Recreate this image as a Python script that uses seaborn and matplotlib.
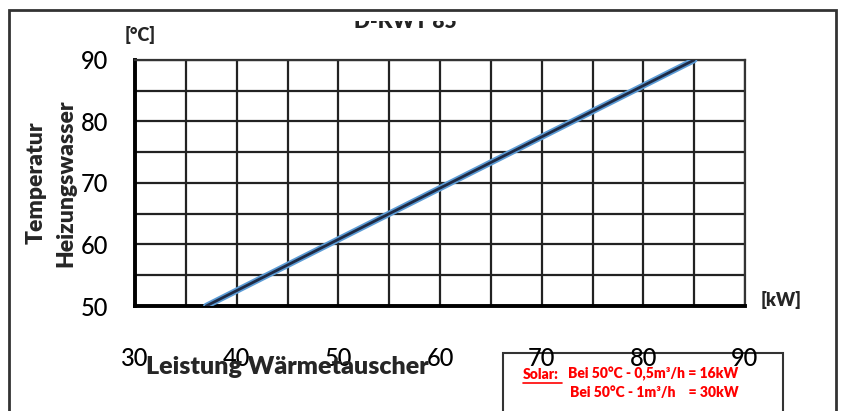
import matplotlib
matplotlib.use("Agg")
import matplotlib.pyplot as plt
import seaborn as sns
import pandas as pd
from matplotlib.ticker import MultipleLocator
from matplotlib.patches import Rectangle

# Werte
leistung_kw = [37, 85]
temperatur_c = [50, 90]
x_ticks = [30, 40, 50, 60, 70, 80, 90]
y_ticks = [50, 60, 70, 80, 90]

sns.set_theme(style="white")
plt.rcParams['font.family'] = ['Lato', 'DejaVu Sans']

df = pd.DataFrame({"kW": leistung_kw, "T": temperatur_c})

fig = plt.figure(figsize=(8.43, 4.11), dpi=100)
ax = fig.add_axes([135/843, 1 - 306/411, 610/843, 246/411])

# Hellblauer Schimmer unter der dunklen Linie
sns.lineplot(data=df, x="kW", y="T", ax=ax, color="#5b9bd5", linewidth=4.5, zorder=3)
sns.lineplot(data=df, x="kW", y="T", ax=ax, color="#1f2a44", linewidth=2.0, zorder=4)

ax.set_xlim(30, 90)
ax.set_ylim(50, 90)
ax.set_xticks(x_ticks)
ax.set_yticks(y_ticks)
ax.xaxis.set_minor_locator(MultipleLocator(5))
ax.yaxis.set_minor_locator(MultipleLocator(5))
ax.grid(True, which="both", color="#222222", linewidth=1.6)
ax.set_axisbelow(True)

for s in ["top", "right"]:
    ax.spines[s].set_color("#333333")
    ax.spines[s].set_linewidth(1.6)
for s in ["left", "bottom"]:
    ax.spines[s].set_color("black")
    ax.spines[s].set_linewidth(2.8)

ax.tick_params(axis="both", which="major", direction="inout", length=9, width=2.5,
               color="black", labelsize=17, labelcolor="black")
ax.tick_params(axis="x", which="major", pad=25)
ax.tick_params(axis="y", which="major", pad=15)
ax.tick_params(which="minor", length=0)
for lab in ax.get_xticklabels() + ax.get_yticklabels():
    lab.set_fontweight("medium")
ax.set_xlabel("")
ax.set_ylabel("")

# Achsentexte
fig.text(36/843, 1 - 183/411, "Temperatur", rotation=90, ha="center", va="center",
         fontsize=16.5, fontweight="heavy")
fig.text(66/843, 1 - 183/411, "Heizungswasser", rotation=90, ha="center", va="center",
         fontsize=16.5, fontweight="heavy")
fig.text(140/843, 1 - 35/411, "[°C]", ha="center", va="center", fontsize=13, fontweight="heavy")
fig.text(781/843, 1 - 300/411, "[kW]", ha="center", va="center", fontsize=13, fontweight="heavy")
fig.text(287/843, 1 - 367/411, "Leistung Wärmetauscher", ha="center", va="center",
         fontsize=18, fontweight="heavy")

# Titel, oben abgeschnitten
fig.text(405/843, 1 - 28/411, "D-KWT 85", ha="center", va="baseline", fontsize=15,
         fontweight="heavy", color="#222222")
fig.patches.append(Rectangle((12/843, 1 - 21/411), 820/843, 9/411, transform=fig.transFigure,
                             facecolor="white", edgecolor="none", zorder=10))

# Rahmen
fig.patches.append(Rectangle((9/843, -0.05), 827/843, 1.05 - 10/411, transform=fig.transFigure,
                             facecolor="none", edgecolor="#333333", linewidth=2.0, zorder=11))

# Solar-Kasten (hinter den Achsenbeschriftungen)
fig.patches.append(Rectangle((503/843, -0.05), 280/843, 0.05 + 1 - 353/411, transform=fig.transFigure,
                             facecolor="white", edgecolor="#333333", linewidth=1.5, zorder=-1))
fig.text(523/843, 1 - 374/411, "Solar:", ha="left", va="center", fontsize=10,
         fontweight="heavy", color="#ff0000", zorder=12)
fig.lines.append(plt.Line2D([523/843, 562/843], [1 - 383/411, 1 - 383/411],
                            transform=fig.transFigure, color="#ff0000", linewidth=1.2))
fig.text(568/843, 1 - 374/411, "Bei 50°C - 0,5m³/h = 16kW", ha="left", va="center",
         fontsize=10, fontweight="heavy", color="#ff0000", zorder=12)
fig.text(570/843, 1 - 392/411, "Bei 50°C - 1m³/h    = 30kW", ha="left", va="center",
         fontsize=10, fontweight="heavy", color="#ff0000", zorder=12)

fig.savefig("out.png", dpi=100, facecolor="white")
